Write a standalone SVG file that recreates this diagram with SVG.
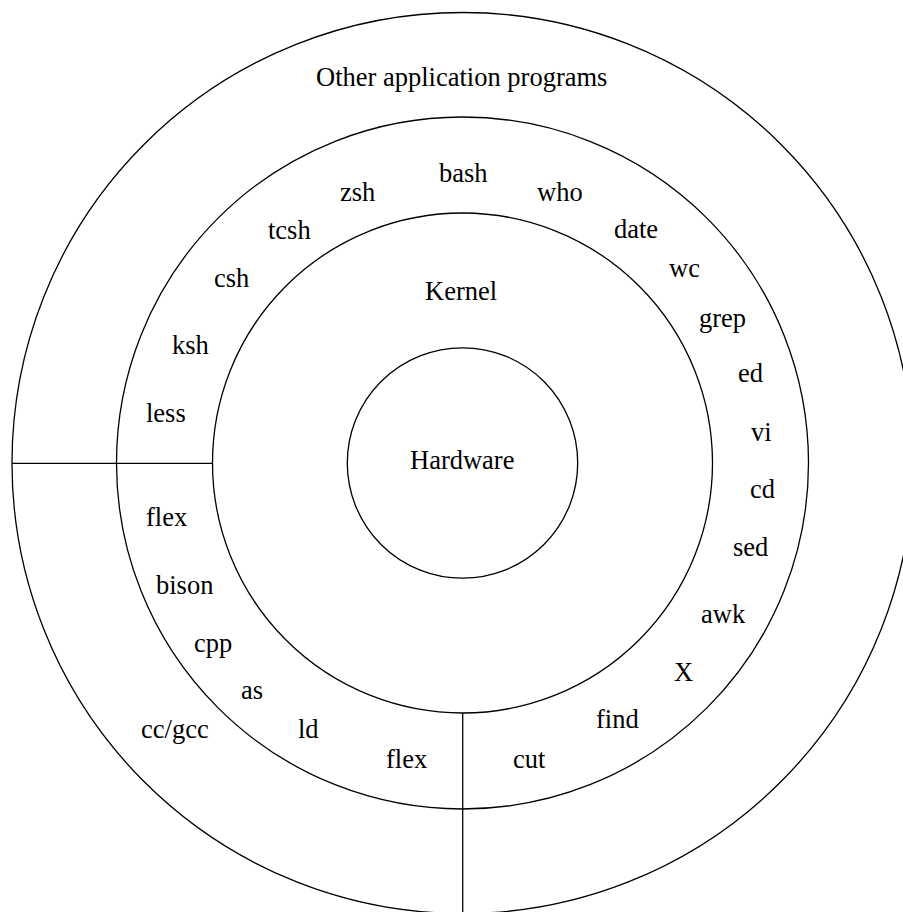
<svg xmlns="http://www.w3.org/2000/svg" width="903" height="912" viewBox="0 0 903 912">
  <style>
    .ring { fill: none; stroke: #000; stroke-width: 1.3; }
    .rule { fill: none; stroke: #000; stroke-width: 1.3; }
    text { font-family: "Liberation Serif", "Times New Roman", "DejaVu Serif", serif; font-size: 26.5px; fill: #000; }
  </style>
  <rect x="0" y="0" width="903" height="912" fill="#fff"/>

  <!-- concentric layers -->
  <g id="applications">
    <circle class="ring" cx="462.5" cy="463" r="450.5"/>
    <text x="316" y="86">Other application programs</text>
  </g>
  <g id="utilities">
    <circle class="ring" cx="462.5" cy="463" r="346"/>
    <text x="439" y="182">bash</text>
    <text x="340" y="201">zsh</text>
    <text x="537" y="201">who</text>
    <text x="268" y="239">tcsh</text>
    <text x="614" y="238">date</text>
    <text x="214" y="287">csh</text>
    <text x="669" y="277">wc</text>
    <text x="699" y="327">grep</text>
    <text x="172" y="354">ksh</text>
    <text x="738" y="382">ed</text>
    <text x="146" y="422">less</text>
    <text x="751" y="441">vi</text>
    <text x="750" y="498">cd</text>
    <text x="733" y="556">sed</text>
    <text x="701" y="623">awk</text>
    <text x="674" y="681">X</text>
    <text x="596" y="728">find</text>
    <text x="513" y="768">cut</text>
    <text x="146" y="526">flex</text>
    <text x="156" y="594">bison</text>
    <text x="194" y="652">cpp</text>
    <text x="241" y="699">as</text>
    <text x="141" y="738">cc/gcc</text>
    <text x="298" y="738">ld</text>
    <text x="386" y="768">flex</text>
  </g>
  <g id="kernel">
    <circle class="ring" cx="462.5" cy="463" r="250"/>
    <text x="425" y="300">Kernel</text>
  </g>
  <g id="hardware">
    <circle class="ring" cx="462.5" cy="463" r="115.2"/>
    <text x="410" y="469">Hardware</text>
  </g>

  <!-- sector dividers -->
  <g id="dividers">
    <line class="rule" x1="12" y1="463.3" x2="212.5" y2="463.3"/>
    <line class="rule" x1="462.7" y1="713" x2="462.7" y2="912"/>
  </g>
</svg>
